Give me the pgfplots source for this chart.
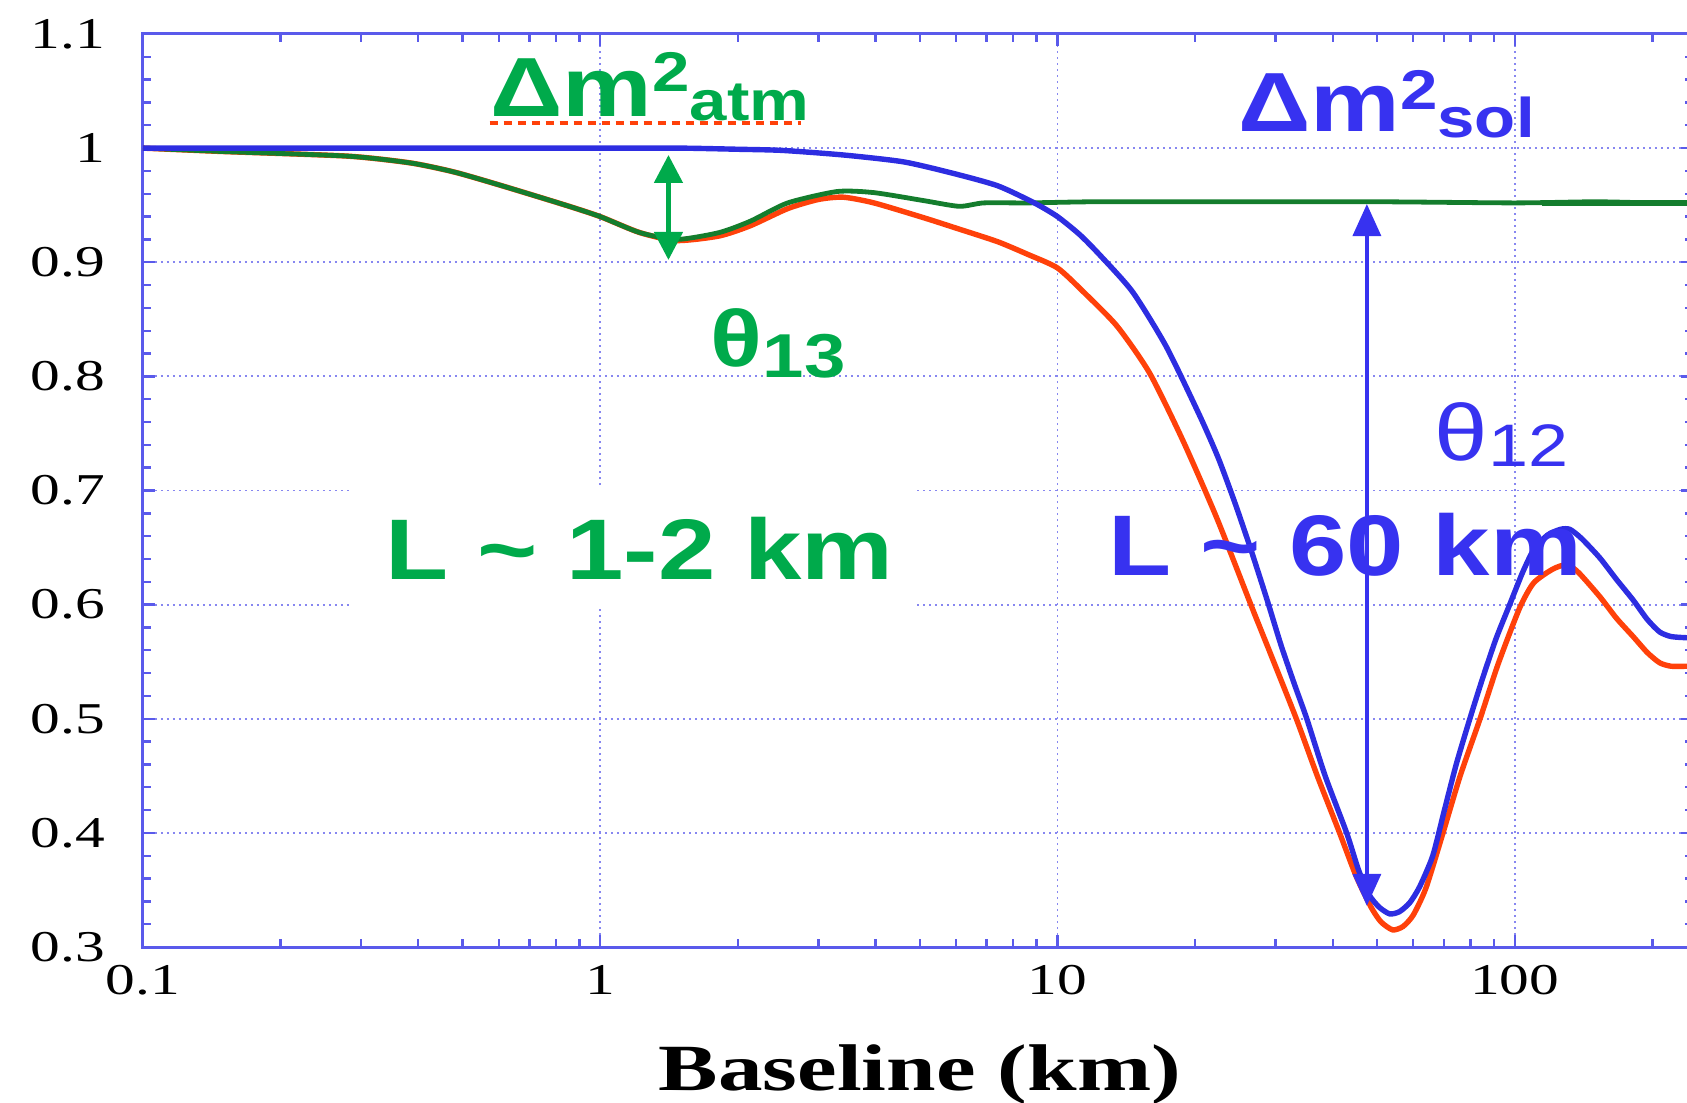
\documentclass[border=0pt]{standalone}
\usepackage{pgfplots}
\pgfplotsset{compat=1.18}
\usetikzlibrary{arrows.meta}
\usepackage{fontspec}
\setmainfont{Liberation Serif}[FakeStretch=1.35]
\newfontfamily\annot{Liberation Sans}[FakeStretch=1.2]
\definecolor{axisblue}{RGB}{90,90,235}
\definecolor{gridblue}{RGB}{135,135,240}
\definecolor{curveblue}{RGB}{45,45,225}
\definecolor{curvered}{RGB}{255,65,10}
\definecolor{curvegreen}{RGB}{20,125,45}
\definecolor{txtgreen}{RGB}{0,170,75}
\definecolor{txtblue}{RGB}{55,50,240}
\begin{document}
\begin{tikzpicture}
\begin{axis}[
  xmode=log, scale only axis,
  width=387.4pt, height=228.25pt,
  xmin=0.1, xmax=245, ymin=0.3, ymax=1.1,
  axis line style={axisblue, line width=0.75pt},
  xtick={0.1,1,10,100}, xticklabels={0.1,1,10,100},
  minor xtick={0.2,0.3,0.4,0.5,0.6,0.7,0.8,0.9,2,3,4,5,6,7,8,9,20,30,40,50,60,70,80,90,200},
  ytick={0.3,0.4,0.5,0.6,0.7,0.8,0.9,1,1.1},
  yticklabels={0.3,0.4,0.5,0.6,0.7,0.8,0.9,1,1.1},
  minor y tick num=4,
  tick align=inside, major tick length=3pt, minor tick length=2pt,
  every tick/.style={axisblue, line width=0.6pt},
  grid=major,
  major grid style={gridblue, line width=0.45pt, dash pattern=on 0.6pt off 0.9pt},
  /pgf/number format/assume math mode=true,
  tick label style={font=\fontsize{11}{11}\selectfont, text=black},
  xticklabel style={yshift=-1pt},
  yticklabel style={xshift=-6pt},
  xlabel={\bfseries Baseline (km)},
  xlabel style={at={(axis description cs:0.5014,0)}, anchor=base, yshift=-35.75pt, font=\fontsize{16.5}{16.5}\selectfont, text=black},
]
% red
\addplot[curvered, line width=1.35pt, smooth, tension=0.4] coordinates {
(0.1,1.0)(0.15,0.997)(0.28,0.993)(0.385,0.987)(0.48,0.979)(0.61,0.967)(0.84,0.950)
(1.0,0.940)(1.22,0.926)(1.47,0.919)(1.82,0.923)(2.13,0.932)(2.57,0.947)(3.0,0.955)
(3.4,0.957)(3.97,0.952)(5.1,0.939)(6.1,0.929)(7.4,0.918)(8.6,0.907)(10,0.895)
(11.4,0.874)(13.5,0.844)(15.9,0.803)(18.8,0.744)(22.3,0.676)(26.6,0.598)(29.1,0.559)
(33.3,0.500)(37,0.450)(41.4,0.400)(45,0.362)(48.5,0.335)(51,0.322)(54.1,0.315)
(57,0.318)(60,0.328)(64,0.352)(69.7,0.400)(76,0.450)(84,0.500)(92,0.548)(102.5,0.597)
(110,0.619)(121,0.631)(130,0.635)(138,0.628)(153.5,0.607)(167,0.588)(181.6,0.572)
(195,0.558)(207.6,0.549)(220,0.546)(237.7,0.546)(245,0.546)};
% green
\addplot[curvegreen, line width=1.2pt, smooth, tension=0.4] coordinates {
(0.1,1.0)(0.15,0.997)(0.28,0.993)(0.385,0.987)(0.48,0.979)(0.61,0.967)(0.84,0.950)
(1.0,0.940)(1.22,0.926)(1.47,0.920)(1.82,0.926)(2.13,0.936)(2.57,0.952)(3.3,0.962)
(3.97,0.961)(5.1,0.954)(6.1,0.949)(6.9,0.952)(8.6,0.952)(12,0.953)(20,0.953)
(50,0.953)(100,0.952)(150,0.953)(200,0.952)(245,0.952)};
\addplot[curvegreen, line width=1.7pt] coordinates {(115,0.952)(245,0.952)};
% blue
\addplot[curveblue, line width=1.35pt, smooth, tension=0.4] coordinates {
(0.1,1.0)(0.3,1.0)(0.6,1.0)(1.0,1.0)(1.5,1.0)(2.0,0.999)(2.5,0.998)(3.4,0.994)
(4.6,0.988)(5.9,0.978)(7.4,0.967)(8.9,0.952)(10,0.940)(11.2,0.924)(12.4,0.906)
(14.6,0.874)(17.3,0.826)(20.5,0.765)(22.5,0.728)(24.5,0.688)(26.5,0.648)(28.8,0.603)
(30.8,0.565)(33.0,0.530)(35.1,0.500)(38.5,0.450)(42.9,0.400)(45.5,0.368)(48.0,0.346)
(50.5,0.335)(53.3,0.329)(56.0,0.331)(59.0,0.339)(62.0,0.353)(66.2,0.380)(70.0,0.418)
(74.5,0.460)(79.8,0.500)(85,0.535)(91,0.570)(97.5,0.600)(104,0.628)(110,0.648)
(118,0.661)(126,0.666)(132,0.666)(140,0.658)(153.5,0.641)(167,0.622)(181.6,0.604)
(195,0.587)(207.6,0.576)(220,0.572)(237.7,0.571)(245,0.571)};
% annotations
\fill[white] (axis cs:0.283,0.597) rectangle (axis cs:4.87,0.704);
\draw[curvered, line width=1pt, dash pattern=on 2pt off 1.5pt] (axis cs:0.573,1.0222) -- (axis cs:2.755,1.0222);
\node[anchor=base west, inner sep=0, text=txtgreen] at (axis cs:0.573,1.0278)
  {\annot\bfseries\fontsize{21}{21}\selectfont Δm\fontsize{14}{14}\selectfont\raisebox{6.2pt}{2}\raisebox{-1pt}{atm}};
\node[anchor=base west, inner sep=0, text=txtblue] at (axis cs:24.74,1.0146)
  {\annot\bfseries\fontsize{21}{21}\selectfont Δm\fontsize{14}{14}\selectfont\raisebox{5.5pt}{2}\raisebox{-1.5pt}{sol}};
\node[anchor=base west, inner sep=0, text=txtgreen] at (axis cs:1.739,0.809)
  {\annot\bfseries\fontsize{20}{20}\selectfont θ\fontsize{15.5}{15.5}\selectfont\raisebox{-2.8pt}{13}};
\node[anchor=base west, inner sep=0, text=txtblue] at (axis cs:66.6,0.726)
  {\annot\fontsize{20}{20}\selectfont θ\fontsize{15}{15}\selectfont\raisebox{-1.5pt}{12}};
\node[anchor=base west, inner sep=0, text=txtgreen] at (axis cs:0.3385,0.6223)
  {\annot\bfseries\fontsize{21.5}{21.5}\selectfont L \textasciitilde{} 1-2 km};
\node[anchor=base west, inner sep=0, text=txtblue] at (axis cs:12.9,0.6251)
  {\annot\bfseries\fontsize{21.5}{21.5}\selectfont L \textasciitilde{} 60 km};
\draw[txtgreen, line width=1.2pt, {Triangle[width=7pt,length=7pt]}-{Triangle[width=7pt,length=7pt]}]
  (axis cs:1.41,0.994) -- (axis cs:1.41,0.902);
\draw[txtblue, line width=0.9pt, {Triangle[width=7pt,length=8pt]}-{Triangle[width=7pt,length=8pt]}]
  (axis cs:47.5,0.951) -- (axis cs:47.5,0.336);
\end{axis}
\pgfresetboundingbox
\useasboundingbox ([shift={(-35.75pt,-38.75pt)}]current axis.south west) rectangle ([shift={(386pt,236.75pt)}]current axis.south west);
\end{tikzpicture}
\end{document}
